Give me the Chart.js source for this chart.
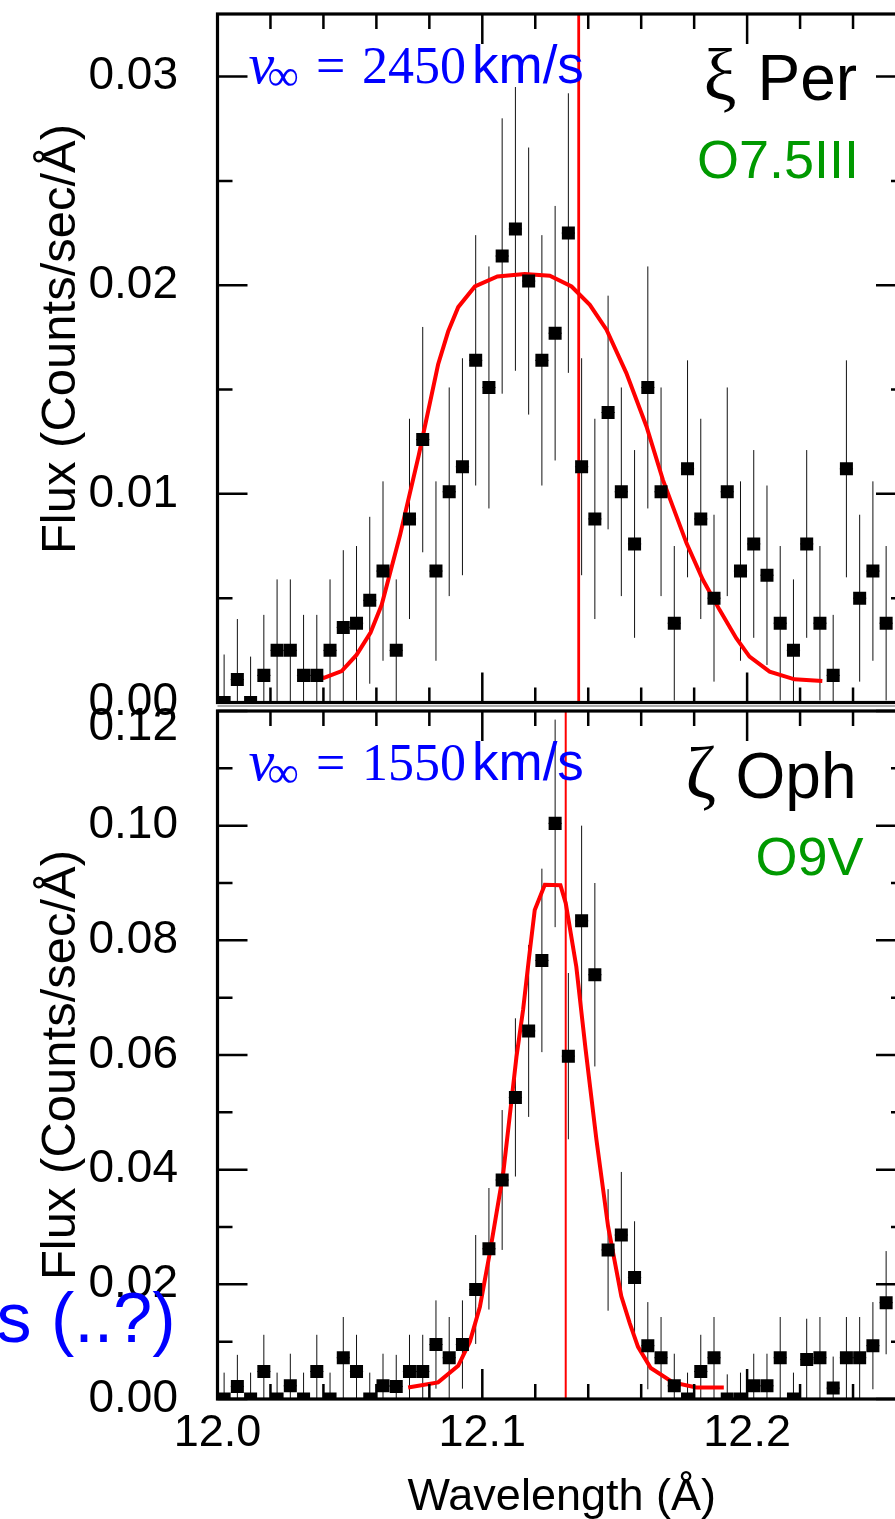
<!DOCTYPE html>
<html lang="en">
<head>
<meta charset="UTF-8">
<title>Line profiles: xi Per and zeta Oph</title>
<script src="https://cdn.jsdelivr.net/npm/chart.js@4.4.1/dist/chart.umd.min.js"></script>
<style>
    html, body {
        margin: 0;
        padding: 0;
        background: #fff;
        width: 895px;
        height: 1519px;
        overflow: hidden;
    }
    #wrap {
        position: relative;
        width: 895px;
        height: 1519px;
        overflow: hidden;
    }
    canvas { position: absolute; left: 0; }
    #topChart { top: 0; }
    #botChart { top: 660px; }
</style>
</head>
<body>
<div id="wrap">
    <canvas id="topChart" width="920" height="740"></canvas>
    <canvas id="botChart" width="920" height="870"></canvas>
</div>

<script>
    // wavelength bin centres (Angstrom), shared by both spectra
    const binCenters = [12.0025, 12.0075, 12.0125, 12.0175, 12.0225, 12.0275, 12.0325, 12.0375, 12.0425, 12.0475,
        12.0525, 12.0575, 12.0625, 12.0675, 12.0725, 12.0775, 12.0825, 12.0875, 12.0925, 12.0975,
        12.1025, 12.1075, 12.1125, 12.1175, 12.1225, 12.1275, 12.1325, 12.1375, 12.1425, 12.1475,
        12.1525, 12.1575, 12.1625, 12.1675, 12.1725, 12.1775, 12.1825, 12.1875, 12.1925, 12.1975,
        12.2025, 12.2075, 12.2125, 12.2175, 12.2225, 12.2275, 12.2325, 12.2375, 12.2425, 12.2475, 12.2525];

    // xi Per
    const perFlux = [0.0000, 0.0011, 0.0000, 0.0013, 0.0025, 0.0025, 0.0013, 0.0013, 0.0025, 0.0036,
        0.0038, 0.0049, 0.0063, 0.0025, 0.0088, 0.0126, 0.0063, 0.0101, 0.0113, 0.0164,
        0.0151, 0.0214, 0.0227, 0.0202, 0.0164, 0.0177, 0.0225, 0.0113, 0.0088, 0.0139,
        0.0101, 0.0076, 0.0151, 0.0101, 0.0038, 0.0112, 0.0088, 0.0050, 0.0101, 0.0063,
        0.0076, 0.0061, 0.0038, 0.0025, 0.0076, 0.0038, 0.0013, 0.0112, 0.0050, 0.0063, 0.0038];
    const perErr = [0.0023, 0.0029, 0.0022, 0.0029, 0.0034, 0.0034, 0.0029, 0.0029, 0.0034, 0.0037,
        0.0037, 0.0040, 0.0043, 0.0034, 0.0048, 0.0054, 0.0043, 0.0050, 0.0052, 0.0060,
        0.0058, 0.0066, 0.0068, 0.0064, 0.0060, 0.0061, 0.0067, 0.0052, 0.0048, 0.0056,
        0.0050, 0.0045, 0.0058, 0.0050, 0.0037, 0.0052, 0.0048, 0.0040, 0.0050, 0.0043,
        0.0045, 0.0043, 0.0037, 0.0034, 0.0045, 0.0037, 0.0029, 0.0052, 0.0040, 0.0043, 0.0037];
    const perModelWave = [12.0397, 12.0469, 12.0525, 12.0578, 12.0620, 12.0689, 12.0760, 12.0833, 12.0871, 12.0909,
        12.0972, 12.1057, 12.1160, 12.1255, 12.1337, 12.1406, 12.1469, 12.1544, 12.1620, 12.1682,
        12.1771, 12.1833, 12.1896, 12.1959, 12.2009, 12.2085, 12.2179, 12.2284];
    const perModelFlux = [0.00116, 0.00151, 0.00228, 0.00335, 0.00468, 0.00800, 0.01185, 0.01620, 0.01778, 0.01895,
        0.01994, 0.02042, 0.02054, 0.02046, 0.01994, 0.01906, 0.01787, 0.01579, 0.01323, 0.01067,
        0.00764, 0.00588, 0.00444, 0.00308, 0.00220, 0.00148, 0.00111, 0.00103];
    const perRestWave = 12.1364;
    const perYTicks = [0, 0.01, 0.02, 0.03];
    const perYMinor = [0.005, 0.015, 0.025];

    // zeta Oph
    const ophFlux = [0.0000, 0.0022, 0.0000, 0.0048, 0.0000, 0.0023, 0.0000, 0.0048, 0.0000, 0.0072,
        0.0048, 0.0000, 0.0023, 0.0022, 0.0048, 0.0048, 0.0095, 0.0072, 0.0095, 0.0191,
        0.0262, 0.0382, 0.0526, 0.0642, 0.0765, 0.1004, 0.0598, 0.0834, 0.0740, 0.0260,
        0.0286, 0.0212, 0.0093, 0.0072, 0.0023, 0.0000, 0.0048, 0.0072, 0.0000, 0.0000,
        0.0023, 0.0023, 0.0072, 0.0000, 0.0069, 0.0072, 0.0019, 0.0072, 0.0072, 0.0093, 0.0168];
    const ophErr = [0.0046, 0.0055, 0.0046, 0.0064, 0.0046, 0.0056, 0.0046, 0.0064, 0.0046, 0.0071,
        0.0064, 0.0046, 0.0056, 0.0055, 0.0064, 0.0064, 0.0077, 0.0071, 0.0077, 0.0095,
        0.0106, 0.0122, 0.0138, 0.0150, 0.0160, 0.0181, 0.0145, 0.0166, 0.0160, 0.0106,
        0.0110, 0.0098, 0.0076, 0.0071, 0.0056, 0.0046, 0.0064, 0.0071, 0.0043, 0.0046,
        0.0056, 0.0056, 0.0071, 0.0046, 0.0071, 0.0071, 0.0055, 0.0071, 0.0071, 0.0076, 0.0090];
    const ophModelWave = [12.0720, 12.0833, 12.0909, 12.0953, 12.0991, 12.1028, 12.1079, 12.1129, 12.1154, 12.1177,
        12.1198, 12.1236, 12.1295, 12.1315, 12.1355, 12.1390, 12.1431, 12.1475, 12.1525, 12.1557,
        12.1588, 12.1636, 12.1720, 12.1808, 12.1912];
    const ophModelFlux = [0.0020, 0.0029, 0.0058, 0.0100, 0.0161, 0.0254, 0.0394, 0.0597, 0.0679, 0.0772,
        0.0853, 0.0897, 0.0896, 0.0865, 0.0754, 0.0610, 0.0452, 0.0301, 0.0179, 0.0132,
        0.0091, 0.0054, 0.0029, 0.0020, 0.0020];
    const ophRestWave = 12.1315;
    const ophYTicks = [0, 0.02, 0.04, 0.06, 0.08, 0.10, 0.12];
    const ophYMinor = [0.01, 0.03, 0.05, 0.07, 0.09, 0.11];

    const xTicks = [12.0, 12.1, 12.2];
    const xMinor = [12.02, 12.04, 12.06, 12.08, 12.12, 12.14, 12.16, 12.18, 12.22, 12.24];
    const halfBin = 0.0025;

    const SANS = '"Liberation Sans", Arial, Helvetica, sans-serif';
    const SERIF = '"Liberation Serif", "Times New Roman", "DejaVu Serif", serif';
    const BLUE = '#0000ff';
    const GREEN = '#009900';
    const FLUX_TITLE = 'Flux (Counts/sec/Å)';

    // error bars under the points, frame + inward ticks + labels on top
    const panelDecor = {
        id: 'panelDecor',
        beforeDatasetsDraw(chart, args, opts) {
            const {ctx, chartArea: a, scales: {x, y}} = chart;
            ctx.save();
            ctx.beginPath();
            ctx.rect(a.left, a.top, a.right - a.left, a.bottom - a.top);
            ctx.clip();
            ctx.strokeStyle = '#111';
            ctx.lineWidth = 1;
            opts.values.forEach((v, i) => {
                const c = binCenters[i];
                const e = opts.errors[i];
                const px = x.getPixelForValue(c);
                const py = y.getPixelForValue(v);
                ctx.beginPath();
                ctx.moveTo(px, y.getPixelForValue(Math.max(v - e, 0)));
                ctx.lineTo(px, y.getPixelForValue(v + e));
                ctx.moveTo(x.getPixelForValue(c - halfBin), py);
                ctx.lineTo(x.getPixelForValue(c + halfBin), py);
                ctx.stroke();
            });
            ctx.restore();
        },
        afterDraw(chart, args, opts) {
            const {ctx, chartArea: a, scales: {x, y}} = chart;
            ctx.save();
            ctx.strokeStyle = '#000';
            ctx.lineCap = 'butt';

            if (opts.separator) {
                ctx.strokeStyle = '#aaa';
                ctx.lineWidth = 2;
                ctx.beginPath();
                ctx.moveTo(a.left, a.bottom + 3.5);
                ctx.lineTo(a.right, a.bottom + 3.5);
                ctx.stroke();
                ctx.strokeStyle = '#000';
            }

            ctx.lineWidth = 2.5;
            const tick = (vals, len) => {
                vals.forEach(v => {
                    const px = x.getPixelForValue(v);
                    ctx.beginPath();
                    ctx.moveTo(px, a.bottom); ctx.lineTo(px, a.bottom - len);
                    ctx.moveTo(px, a.top); ctx.lineTo(px, a.top + len);
                    ctx.stroke();
                });
            };
            const ytick = (vals, len) => {
                vals.forEach(v => {
                    const py = y.getPixelForValue(v);
                    ctx.beginPath();
                    ctx.moveTo(a.left, py); ctx.lineTo(a.left + len, py);
                    ctx.moveTo(a.right, py); ctx.lineTo(a.right - len, py);
                    ctx.stroke();
                });
            };
            tick(xTicks, 30);
            tick(xMinor, 15);
            ytick(opts.yMajor, 30);
            ytick(opts.yMinor, 15);

            ctx.lineWidth = 3.2;
            ctx.strokeRect(a.left, a.top, a.right - a.left, a.bottom - a.top);

            // rotated y-axis title
            ctx.save();
            ctx.translate(a.left - 142.5, a.top + opts.yTitleDy);
            ctx.rotate(-Math.PI / 2);
            ctx.font = '49px ' + SANS;
            ctx.fillStyle = '#000';
            ctx.textAlign = 'center';
            ctx.textBaseline = 'alphabetic';
            ctx.fillText(FLUX_TITLE, 0, 0);
            ctx.restore();

            ctx.textBaseline = 'alphabetic';
            opts.texts.forEach(t => {
                ctx.font = t.font;
                ctx.fillStyle = t.color;
                ctx.textAlign = t.align || 'left';
                ctx.fillText(t.text, a.left + t.dx, a.top + t.dy);
            });
            ctx.restore();
        }
    };

    function vInfTexts(speed) {
        return [
            {text: 'v', dx: 31, dy: 69, font: 'italic 58px ' + SERIF, color: BLUE},
            {text: '∞', dx: 50, dy: 76, font: '44px ' + SERIF, color: BLUE},
            {text: '=', dx: 98.5, dy: 69, font: '52px ' + SERIF, color: BLUE},
            {text: speed, dx: 144.5, dy: 69, font: '52px ' + SERIF, color: BLUE},
            {text: 'km/s', dx: 254.5, dy: 69, font: '53px ' + SANS, color: BLUE}
        ];
    }

    function yScale(max, tickList, shiftTop) {
        return {
            type: 'linear',
            min: 0,
            max: max,
            grid: {display: false, drawTicks: false},
            border: {display: false},
            afterBuildTicks: s => { s.ticks = tickList.map(v => ({value: v})); },
            afterFit: s => { s.width = 217.5; s.paddingTop = 0; s.paddingBottom = 0; },
            ticks: {
                padding: 39.5,
                color: '#000',
                font: {family: SANS, size: 46, lineHeight: '32px'},
                // the top label of the lower panel sits just under its tick
                callback: (v, i, ticks) => (shiftTop && i === ticks.length - 1)
                    ? ['', Number(v).toFixed(2)] : Number(v).toFixed(2)
            }
        };
    }

    function datasets(flux, modelWave, modelFlux, rest, ymax, restWidth) {
        return [
            {
                data: binCenters.map((c, i) => ({x: c, y: flux[i]})),
                pointStyle: 'rect',
                pointRadius: 9.2,
                pointBorderWidth: 0,
                pointBackgroundColor: '#000',
                showLine: false,
                clip: 0
            },
            {
                data: modelWave.map((w, i) => ({x: w, y: modelFlux[i]})),
                showLine: true,
                borderColor: '#ff0000',
                borderWidth: 4,
                pointRadius: 0,
                tension: 0,
                clip: 0
            },
            {
                data: [{x: rest, y: 0}, {x: rest, y: ymax}],
                showLine: true,
                borderColor: '#ff0000',
                borderWidth: restWidth,
                pointRadius: 0,
                clip: 0
            }
        ];
    }

    new Chart(document.getElementById('topChart'), {
        type: 'scatter',
        data: {datasets: datasets(perFlux, perModelWave, perModelFlux, perRestWave, 0.033, 2.8)},
        options: {
            responsive: false,
            animation: false,
            devicePixelRatio: 1,
            events: [],
            layout: {padding: {top: 14, right: 14, left: 0, bottom: 0}},
            plugins: {
                legend: {display: false},
                tooltip: {enabled: false},
                panelDecor: {
                    values: perFlux,
                    errors: perErr,
                    yMajor: perYTicks,
                    yMinor: perYMinor,
                    separator: true,
                    yTitleDy: 325,
                    texts: vInfTexts('2450').concat([
                        {text: 'ξ', dx: 486, dy: 86, font: '74px ' + SERIF, color: '#000'},
                        {text: 'Per', dx: 540, dy: 86, font: '64px ' + SANS, color: '#000'},
                        {text: 'O7.5III', dx: 479.5, dy: 164, font: '54px ' + SANS, color: GREEN}
                    ])
                }
            },
            scales: {
                x: {
                    type: 'linear',
                    min: 12.0,
                    max: 12.26,
                    grid: {display: false, drawTicks: false},
                    border: {display: false},
                    ticks: {display: false},
                    afterFit: s => { s.height = 37.5; s.paddingLeft = 0; s.paddingRight = 0; }
                },
                y: yScale(0.033, perYTicks, false)
            }
        },
        plugins: [panelDecor]
    });

    new Chart(document.getElementById('botChart'), {
        type: 'scatter',
        data: {datasets: datasets(ophFlux, ophModelWave, ophModelFlux, ophRestWave, 0.12, 2)},
        options: {
            responsive: false,
            animation: false,
            devicePixelRatio: 1,
            events: [],
            layout: {padding: {top: 51, right: 14, left: 0, bottom: 0}},
            plugins: {
                legend: {display: false},
                tooltip: {enabled: false},
                panelDecor: {
                    values: ophFlux,
                    errors: ophErr,
                    yMajor: ophYTicks,
                    yMinor: ophYMinor,
                    separator: false,
                    yTitleDy: 354,
                    texts: vInfTexts('1550').concat([
                        {text: 'ζ', dx: 468, dy: 87, font: '74px ' + SERIF, color: '#000'},
                        {text: 'Oph', dx: 518, dy: 87, font: '64px ' + SANS, color: '#000'},
                        {text: 'O9V', dx: 538, dy: 164, font: '54px ' + SANS, color: GREEN},
                        {text: 's (..?)', dx: -42, dy: 631, font: '70px ' + SANS, color: BLUE, align: 'right'}
                    ])
                }
            },
            scales: {
                x: {
                    type: 'linear',
                    min: 12.0,
                    max: 12.26,
                    grid: {display: false, drawTicks: false},
                    border: {display: false},
                    afterBuildTicks: s => { s.ticks = xTicks.map(v => ({value: v})); },
                    afterFit: s => { s.height = 131; s.paddingLeft = 0; s.paddingRight = 0; },
                    ticks: {
                        padding: 8,
                        autoSkip: false,
                        maxRotation: 0,
                        minRotation: 0,
                        color: '#000',
                        font: {family: SANS, size: 45},
                        callback: v => Number(v).toFixed(1)
                    },
                    title: {
                        display: true,
                        text: 'Wavelength (Å)',
                        color: '#000',
                        font: {family: SANS, size: 45},
                        padding: {top: 0, bottom: 5}
                    }
                },
                y: yScale(0.12, ophYTicks, true)
            }
        },
        plugins: [panelDecor]
    });
</script>
</body>
</html>
